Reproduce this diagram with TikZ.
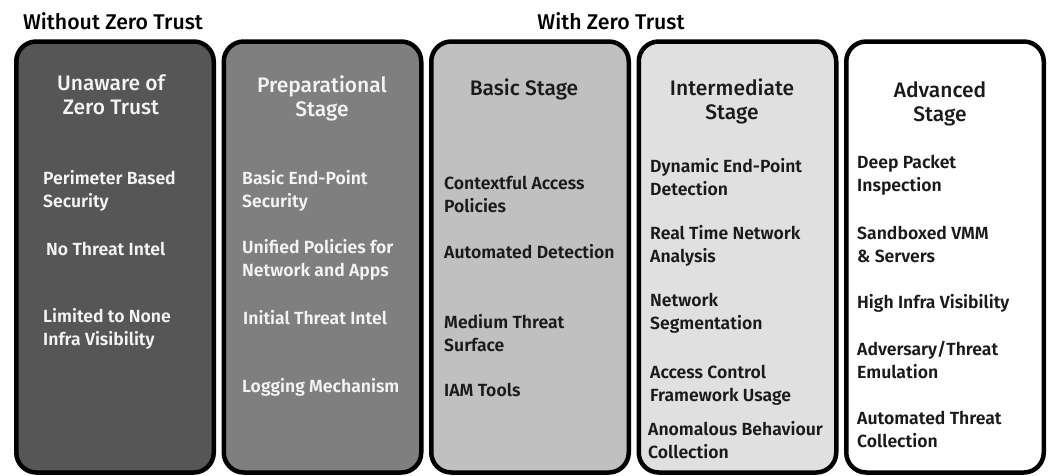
\documentclass[tikz,border=0pt]{standalone}
\usepackage{fontspec}
\setmainfont{Fira Sans}
\newfontfamily\itemfont{Fira Sans}[UprightFont=* SemiBold]
\newfontfamily\titlefont{Fira Sans}[UprightFont=* Medium]
\newfontfamily\headfont{Fira Sans}[UprightFont=* Medium]
\definecolor{cA}{HTML}{565656}
\definecolor{cB}{HTML}{7F7F7F}
\definecolor{cC}{HTML}{C0C0C0}
\definecolor{cD}{HTML}{E0E0E0}
\definecolor{cE}{HTML}{FFFFFF}
\definecolor{lighttxt}{HTML}{F4F4F4}
\definecolor{darktxt}{HTML}{1A1A1A}
\tikzset{
  stagebox/.style={draw=black, line width=4.5pt, rounded corners=20pt},
  stagetitle/.style={font=\titlefont\fontsize{21}{24}\selectfont, align=center, inner sep=0pt, anchor=center},
  stageitem/.style={font=\itemfont\fontsize{17.6}{23}\selectfont, align=left, inner sep=0pt, anchor=west},
  header/.style={font=\headfont\fontsize{21.3}{22}\selectfont, text=black, inner sep=0pt}
}
\begin{document}
\begin{tikzpicture}[x=1pt,y=-1pt]
\useasboundingbox (0,0) rectangle (1049,475);
% boxes
\foreach \i/\c in {0/cA,1/cB,2/cC,3/cD,4/cE}{
  \path[stagebox, fill=\c] ({16.25+207.5*\i},41.5) rectangle ({213.75+207.5*\i},472.5);
}
% headers
\node[header] (h1) at (113,21) {Without Zero Trust};
\node[header] (h2) at (611,21) {With Zero Trust};
% titles
\node[stagetitle, text=lighttxt] (t1) at (111,95) {Unaware of\\Zero Trust};
\node[stagetitle, text=lighttxt] (t2) at (322,98) {Preparational\\Stage};
\node[stagetitle, text=darktxt] (t3) at (524,89) {Basic Stage};
\node[stagetitle, text=darktxt] (t4) at (732,101) {Intermediate\\Stage};
\node[stagetitle, text=darktxt] (t5) at (940,104) {Advanced\\Stage};
% box 1
\node[stageitem, text=lighttxt] (a1) at (43,190.5) {Perimeter Based\\Security};
\node[stageitem, text=lighttxt] (a2) at (46,249) {No Threat Intel};
\node[stageitem, text=lighttxt] (a3) at (43,328.5) {Limited to None\\Infra Visibility};
% box 2
\node[stageitem, text=lighttxt] (b1) at (242,190.5) {Basic End-Point\\Security};
\node[stageitem, text=lighttxt] (b2) at (242,259.5) {Unified Policies for\\Network and Apps};
\node[stageitem, text=lighttxt] (b3) at (243,318) {Initial Threat Intel};
\node[stageitem, text=lighttxt] (b4) at (242,387) {Logging Mechanism};
% box 3
\node[stageitem, text=darktxt] (c1) at (444,194.5) {Contextful Access\\Policies};
\node[stageitem, text=darktxt] (c2) at (444,252) {Automated Detection};
\node[stageitem, text=darktxt] (c3) at (444,333) {Medium Threat\\Surface};
\node[stageitem, text=darktxt] (c4) at (444,390) {IAM Tools};
% box 4
\node[stageitem, text=darktxt] (d1) at (650,177) {Dynamic End-Point\\Detection};
\node[stageitem, text=darktxt] (d2) at (650,246) {Real Time Network\\Analysis};
\node[stageitem, text=darktxt] (d3) at (650,313) {Network\\Segmentation};
\node[stageitem, text=darktxt] (d4) at (650,385) {Access Control\\Framework Usage};
\node[stageitem, text=darktxt] (d5) at (648,440) {Anomalous Behaviour\\Collection};
% box 5
\node[stageitem, text=darktxt] (e1) at (857,175.5) {Deep Packet\\Inspection};
\node[stageitem, text=darktxt] (e2) at (857,244.5) {Sandboxed VMM\\\& Servers};
\node[stageitem, text=darktxt] (e3) at (857,303) {High Infra Visibility};
\node[stageitem, text=darktxt] (e4) at (857,359.5) {Adversary/Threat\\Emulation};
\node[stageitem, text=darktxt] (e5) at (857,429) {Automated Threat\\Collection};
\end{tikzpicture}
\end{document}
